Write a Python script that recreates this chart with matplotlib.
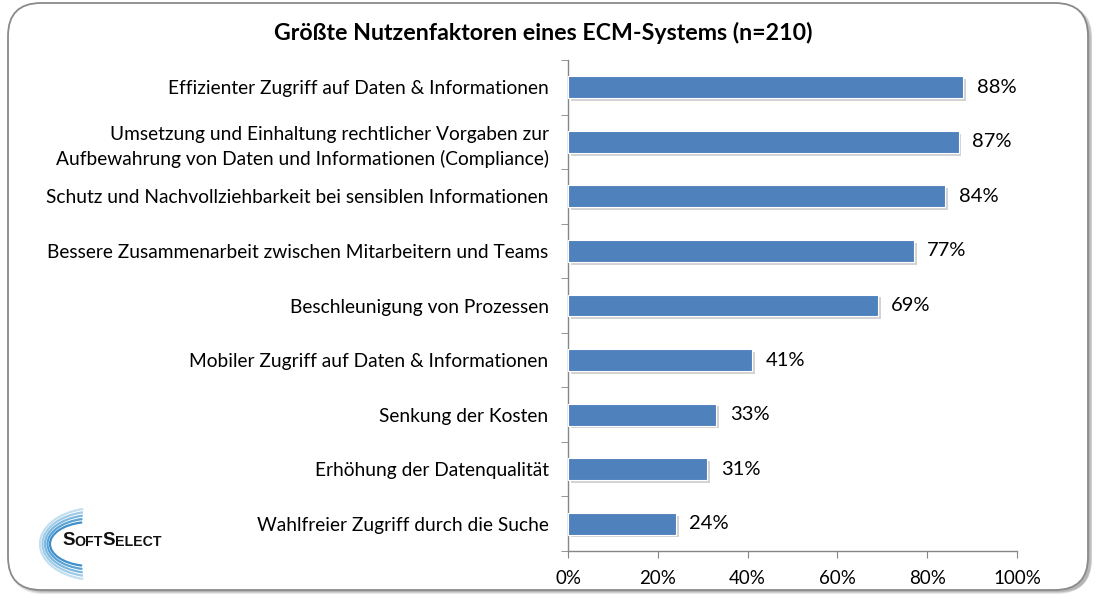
#!/usr/bin/python3

# horizontal bar chart: ECM benefit factors survey (n=210)

import matplotlib
matplotlib.use('Agg')
import matplotlib.pyplot as plt
import matplotlib.patheffects as pe
from matplotlib.patches import FancyBboxPatch, Arc
import matplotlib.ticker as mticker

plt.rcParams['font.family'] = ['Lato', 'DejaVu Sans']

title = 'Größte Nutzenfaktoren eines ECM-Systems (n=210)'
categories = [
    'Effizienter Zugriff auf Daten & Informationen',
    'Umsetzung und Einhaltung rechtlicher Vorgaben zur\nAufbewahrung von Daten und Informationen (Compliance)',
    'Schutz und Nachvollziehbarkeit bei sensiblen Informationen',
    'Bessere Zusammenarbeit zwischen Mitarbeitern und Teams',
    'Beschleunigung von Prozessen',
    'Mobiler Zugriff auf Daten & Informationen',
    'Senkung der Kosten',
    'Erhöhung der Datenqualität',
    'Wahlfreier Zugriff durch die Suche',
]
values = [88, 87, 84, 77, 69, 41, 33, 31, 24]
xticks = [0, 20, 40, 60, 80, 100]

bar_color = '#4F81BD'
axis_color = '#868686'

fig = plt.figure(figsize=(11.0, 6.05), dpi=100)

# rounded frame with drop shadow
W, H = 1100.0, 605.0
for k, a in enumerate([0.25, 0.35, 0.5]):
    sh = FancyBboxPatch(((10 + k) / W, 1 - (594 - k) / H), 1080 / W, 587 / H,
                        boxstyle='round,pad=0,rounding_size=0.03',
                        transform=fig.transFigure, facecolor='#a0a0a0',
                        edgecolor='none', zorder=0, alpha=a,
                        mutation_aspect=W / H)
    fig.patches.append(sh)
frame = FancyBboxPatch((8 / W, 1 - 590 / H), 1080 / W, 587 / H,
                       boxstyle='round,pad=0,rounding_size=0.03',
                       transform=fig.transFigure, facecolor='white',
                       edgecolor='#8a8a8a', linewidth=1.3, zorder=1,
                       mutation_aspect=W / H)
fig.patches.append(frame)

ax = fig.add_axes([568 / W, 1 - 551 / H, 449 / W, 491 / H])
ax.set_facecolor('none')
ax.set_zorder(2)

ypos = list(range(len(categories)))
bars = ax.barh(ypos, values, height=0.4, color=bar_color, edgecolor='white',
               linewidth=0.8, zorder=3)
for b in bars:
    b.set_path_effects([pe.SimplePatchShadow(offset=(2, -2), shadow_rgbFace='#a8a8a8', alpha=0.5),
                        pe.Normal()])

ax.set_ylim(len(categories) - 0.5, -0.5)
ax.set_xlim(0, 100)
ax.set_xticks(xticks)
ax.xaxis.set_major_formatter(mticker.FuncFormatter(lambda x, p: f'{int(x)}%'))
ax.set_yticks(ypos)
ax.set_yticklabels(categories, fontsize=13.8, linespacing=1.5)
ax.set_yticks([i - 0.5 for i in range(len(categories) + 1)], minor=True)

for side in ('top', 'right'):
    ax.spines[side].set_visible(False)
for side in ('left', 'bottom'):
    ax.spines[side].set_color(axis_color)
    ax.spines[side].set_linewidth(1.0)

ax.tick_params(axis='y', which='major', length=0, pad=14)
ax.tick_params(axis='y', which='minor', length=5, color=axis_color, direction='out')
ax.tick_params(axis='x', which='major', length=5, color=axis_color, direction='out',
               labelsize=13.5, pad=9)

for y, v in zip(ypos, values):
    ax.text(v + 3, y, f'{v}%', va='center', ha='left', fontsize=14.5, zorder=4)

fig.text(543 / W, 1 - 33 / H, title, ha='center', va='center',
         fontsize=16.7, fontweight='bold')

# SoftSelect logo, drawn in figure pixel units
lax = fig.add_axes([0, 0, 1, 1])
lax.set_zorder(3)
lax.set_xlim(0, W)
lax.set_ylim(H, 0)
lax.axis('off')
arc_cols = ['#3f8fc8', '#5aa3d4', '#7cb8df', '#9fcbe8', '#c2def1']
for i, c in enumerate(arc_cols):
    w = 2 * (40 + i * 4)
    h = 2 * (22 + i * 3.5)
    lax.add_patch(Arc((90 + i * 1.5, 544), w, h, theta1=110, theta2=250,
                      color=c, linewidth=1.6))
logo_font = ['Liberation Sans', 'DejaVu Sans']
big = dict(fontsize=13.5, fontweight='bold', color='#111111', family=logo_font,
           va='bottom', ha='left')
small = dict(fontsize=10.2, fontweight='bold', color='#111111', family=logo_font,
             va='bottom', ha='left')
t1 = lax.text(62, 549, 'S', **big)
t2 = lax.annotate('OFT', xy=(1, 0), xycoords=t1, **small)
t3 = lax.annotate('S', xy=(1, 0), xycoords=t2, **big)
t4 = lax.annotate('ELECT', xy=(1, 0), xycoords=t3, **small)

fig.savefig('out.png', dpi=100, facecolor='white')
